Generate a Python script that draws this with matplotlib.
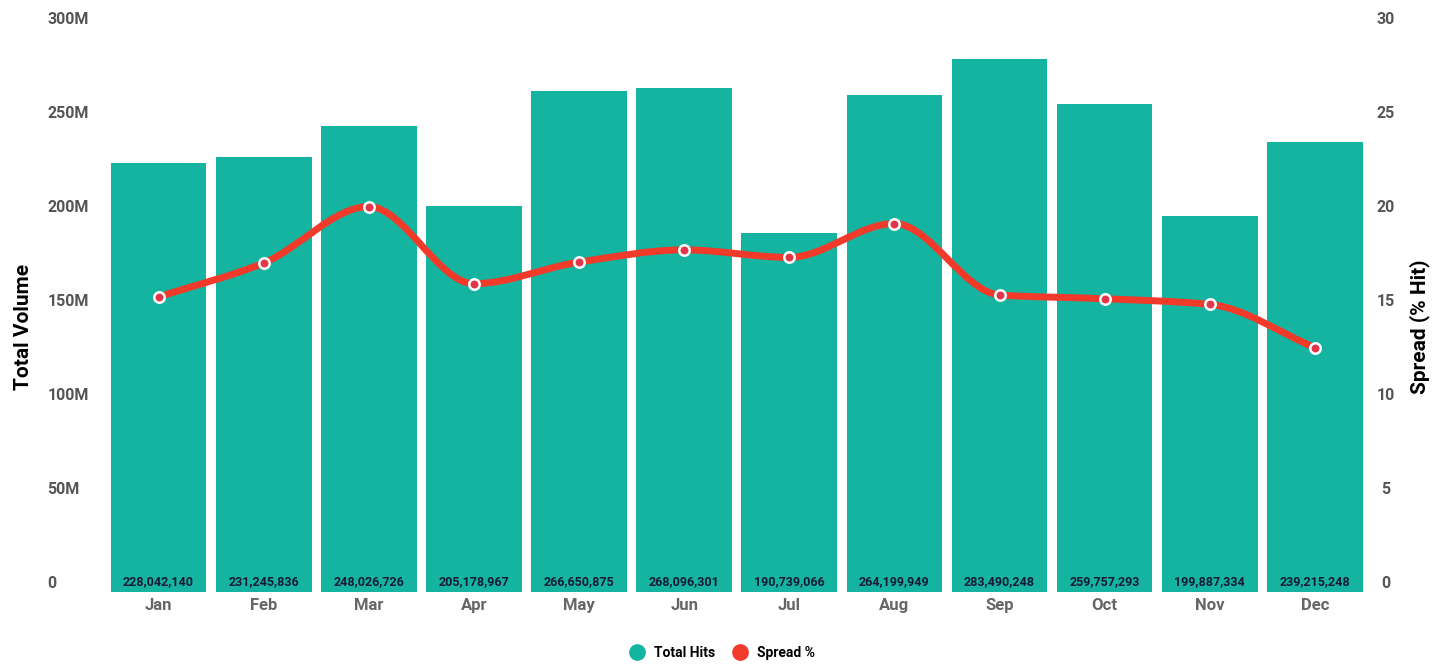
import numpy as np
import matplotlib
matplotlib.use("Agg")
import matplotlib.pyplot as plt
from matplotlib.path import Path
from matplotlib.patches import PathPatch
from matplotlib.lines import Line2D
from matplotlib.transforms import ScaledTranslation

months = ['Jan', 'Feb', 'Mar', 'Apr', 'May', 'Jun', 'Jul', 'Aug', 'Sep', 'Oct', 'Nov', 'Dec']
total_hits = [228042140, 231245836, 248026726, 205178967, 266650875, 268096301,
              190739066, 264199949, 283490248, 259757293, 199887334, 239215248]
spread = [15.7, 17.5, 20.5, 16.4, 17.55, 18.2, 17.8, 19.6, 15.8, 15.6, 15.3, 13.0]

left_ticks = [0, 50e6, 100e6, 150e6, 200e6, 250e6, 300e6]
left_labels = ['0', '50M', '100M', '150M', '200M', '250M', '300M']
right_ticks = [0, 5, 10, 15, 20, 25, 30]

teal = '#14B4A0'
red = '#F23A2B'
font = 'Roboto'

fig = plt.figure(figsize=(14.44, 6.66), dpi=100)
ax = fig.add_axes([0.0734, 0.111, 0.8736, 0.847])
ax2 = ax.twinx()

x = np.arange(len(months))
ax.bar(x, total_hits, width=0.91, color=teal, zorder=1)
for i, v in enumerate(total_hits):
    ax.annotate(f'{v:,}', (i, 0), xytext=(0, 3), textcoords='offset points',
                ha='center', va='bottom', fontsize=9, fontweight='bold',
                color='#151a35', family=font)

ax.set_xlim(-0.5, 11.5)
ax.set_ylim(0, 300e6)
ax2.set_ylim(0, 30)

# smooth monotone curve through the spread points
xs = np.array(x, dtype=float)
ys = np.array(spread)
d = np.diff(ys) / np.diff(xs)
m = np.zeros_like(ys)
m[0], m[-1] = d[0], d[-1]
for i in range(1, len(ys) - 1):
    if d[i - 1] * d[i] <= 0:
        m[i] = 0
    else:
        m[i] = 2 / (1 / d[i - 1] + 1 / d[i])
verts = [(xs[0], ys[0])]
codes = [Path.MOVETO]
for i in range(len(xs) - 1):
    h = xs[i + 1] - xs[i]
    verts += [(xs[i] + h / 3, ys[i] + m[i] * h / 3),
              (xs[i + 1] - h / 3, ys[i + 1] - m[i + 1] * h / 3),
              (xs[i + 1], ys[i + 1])]
    codes += [Path.CURVE4] * 3
ax2.add_patch(PathPatch(Path(verts, codes), facecolor='none', edgecolor=red,
                        lw=5, capstyle='round', zorder=3))
ax2.plot(xs, ys, ls='none', marker='o', ms=7.5, mfc='#E2354A', mec='white',
         mew=1.8, zorder=4)

for a in (ax, ax2):
    for s in a.spines.values():
        s.set_visible(False)

ax.set_xticks(x)
ax.set_xticklabels(months, fontsize=12, fontweight='bold', color='#666666', family=font)
ax.tick_params(axis='x', length=0, pad=4)

ax.set_yticks(left_ticks)
ax.set_yticklabels(left_labels, fontsize=11.5, fontweight='bold', color='#555555', family=font)
ax.tick_params(axis='y', length=0, pad=42)
lift = ScaledTranslation(0, 10 / 100, fig.dpi_scale_trans)
for lab in ax.get_yticklabels():
    lab.set_horizontalalignment('left')
    lab.set_transform(lab.get_transform() + lift)

ax2.set_yticks(right_ticks)
ax2.set_yticklabels([str(t) for t in right_ticks], fontsize=11.5, fontweight='bold',
                    color='#555555', family=font)
ax2.tick_params(axis='y', length=0, pad=13)
for lab in ax2.get_yticklabels():
    lab.set_horizontalalignment('center')
    lab.set_transform(lab.get_transform() + lift)

ax.set_ylabel('Total Volume', fontsize=15, fontweight='bold', family=font, labelpad=0)
ax.yaxis.set_label_coords(-0.058, 0.47)
ax2.set_ylabel('Spread (% Hit)', fontsize=15, fontweight='bold', family=font, rotation=90)
ax2.yaxis.set_label_coords(1.033, 0.47)

handles = [Line2D([], [], ls='none', marker='o', ms=11, color=teal),
           Line2D([], [], ls='none', marker='o', ms=11, color=red)]
fig.legend(handles, ['Total Hits', 'Spread %'], loc='center', bbox_to_anchor=(0.498, 0.02),
           ncol=2, frameon=False, handletextpad=0.2, columnspacing=0.8,
           prop={'family': font, 'weight': 'bold', 'size': 10})

fig.savefig('out.png', dpi=100)
